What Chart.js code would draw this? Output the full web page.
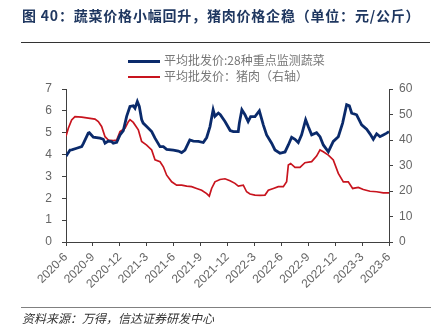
<!DOCTYPE html>
<html>
<head>
<meta charset="utf-8">
<script src="https://cdn.jsdelivr.net/npm/chart.js@4/dist/chart.umd.min.js"></script>
<style>
  html, body { margin: 0; padding: 0; background: #fff; }
  #wrap { position: relative; width: 443px; height: 334px; overflow: hidden; font-family: "Noto Sans CJK SC", "Noto Sans", sans-serif; }
  #c { position: absolute; left: 0; top: 0; }
  #title { position: absolute; left: 22px; top: 5px; font-size: 14px; font-weight: bold; color: #1f3760; white-space: pre; line-height: 20px; letter-spacing: 0.8px; }
  #topline { position: absolute; left: 21px; top: 42px; width: 409px; height: 1px; background: #333; }
  .lg { position: absolute; left: 128px; height: 14px; }
  .lg .sw { position: absolute; left: 0; width: 32px; }
  .lg .tx { position: absolute; left: 36px; top: -2px; font-size: 12px; color: #777; white-space: nowrap; line-height: 16px; }
  #botline { position: absolute; left: 21px; top: 307px; width: 410px; height: 1px; background: #808080; }
  #source { position: absolute; left: 22px; top: 310px; font-size: 12px; font-style: italic; color: #333; white-space: nowrap; line-height: 16px; }
</style>
</head>
<body>
<div id="wrap">
  <canvas id="c" width="443" height="334"></canvas>
  <div id="title">图 40：蔬菜价格小幅回升，猪肉价格企稳（单位：元/公斤）</div>
  <div id="topline"></div>
  <div id="legend"></div>
  <div id="botline"></div>
  <div id="source">资料来源：万得，信达证券研发中心</div>
</div>
<script>
// Month offsets from 2020-06 (x positions as time), and values
const vegT = [0.00,0.45,0.63,1.19,1.75,1.93,2.48,2.60,3.05,3.79,4.16,4.35,4.72,5.10,5.27,5.65,6.02,6.39,6.76,7.13,7.50,7.69,7.95,8.17,8.43,8.60,8.99,9.55,9.92,10.48,10.85,11.22,11.96,12.52,12.89,13.26,13.80,14.19,14.75,15.30,15.68,16.05,16.40,16.60,16.98,17.20,17.72,18.30,18.65,19.20,19.32,19.60,19.95,20.30,20.58,21.06,21.55,21.99,22.36,22.92,23.29,23.85,24.41,24.78,25.15,25.52,25.89,26.26,26.71,27.00,27.38,27.93,28.31,28.68,29.24,29.79,30.35,30.83,31.28,31.58,31.84,32.39,32.95,33.51,33.88,34.25,34.62,34.99,35.36,35.74,36.00];
const vegV = [3.92,4.21,4.22,4.29,4.36,4.50,4.98,5.00,4.80,4.75,4.70,4.52,4.62,4.59,4.52,4.56,4.90,5.10,5.75,6.20,6.23,6.12,6.43,6.20,5.60,5.44,5.28,5.05,4.75,4.36,4.36,4.24,4.20,4.16,4.09,4.20,4.67,4.62,4.60,4.55,4.78,5.28,6.05,5.75,5.90,5.82,5.51,5.10,5.05,5.05,5.44,6.05,5.82,5.51,5.74,5.74,6.00,5.36,4.90,4.52,4.21,4.06,4.12,4.44,4.79,4.70,4.55,4.90,5.59,5.28,4.90,5.00,4.82,4.44,4.13,4.60,4.82,5.44,6.28,6.23,5.90,5.82,5.36,5.16,4.95,4.70,4.95,4.82,4.90,4.98,5.05];
const porkT = [0.00,0.26,0.63,1.00,1.75,2.49,3.23,3.60,3.97,4.35,4.72,5.27,5.65,6.02,6.58,6.95,7.13,7.50,8.06,8.43,8.99,9.55,9.92,10.48,10.85,11.22,11.78,12.33,12.89,13.45,14.00,14.56,15.12,15.68,15.97,16.23,16.60,17.16,17.72,18.28,18.83,19.21,19.76,20.13,20.51,21.06,21.62,22.18,22.55,23.11,23.66,24.22,24.59,24.78,25.04,25.52,26.08,26.63,27.38,27.93,28.31,28.68,29.24,29.79,30.35,30.91,31.46,31.95,32.58,33.14,33.88,34.62,35.36,36.00];
const porkV = [41.5,44.6,47.9,49.2,49.0,48.6,48.2,47.2,45.3,41.3,40.0,39.8,40.0,43.3,44.6,47.2,48.0,46.9,44.0,39.4,38.0,36.1,32.2,31.5,29.5,26.2,23.6,22.3,22.3,21.9,21.7,21.0,20.3,19.0,18.0,21.0,23.6,24.5,24.8,24.0,23.0,21.9,22.3,19.7,18.8,18.4,18.3,18.4,20.3,21.0,21.7,21.7,23.6,30.2,30.8,29.3,29.3,31.1,31.5,33.7,36.1,35.4,34.1,32.2,26.9,23.6,23.6,21.0,21.4,20.6,19.9,19.7,19.3,19.3];
const tickLabels = ['2020-6','2020-9','2020-12','2021-3','2021-6','2021-9','2021-12','2022-3','2022-6','2022-9','2022-12','2023-3','2023-6'];
const seriesNames = ['平均批发价:28种重点监测蔬菜', '平均批发价：猪肉（右轴）'];
const seriesColors = ['#0a2a6b', '#c8141e'];

const legendEl = document.getElementById('legend');
seriesNames.forEach((name, i) => {
  const row = document.createElement('div');
  row.className = 'lg';
  row.style.top = (54 + i * 16) + 'px';
  const sw = document.createElement('div');
  sw.className = 'sw';
  sw.style.background = seriesColors[i];
  sw.style.height = (i === 0 ? 3 : 2) + 'px';
  sw.style.top = '6px';
  const tx = document.createElement('div');
  tx.className = 'tx';
  tx.textContent = name;
  row.appendChild(sw); row.appendChild(tx);
  legendEl.appendChild(row);
});

const axisColor = '#404040';
const tickFont = { family: '"Liberation Sans", Arial, sans-serif', size: 12 };
const tickColor = '#666';

new Chart(document.getElementById('c'), {
  type: 'line',
  data: {
    datasets: [
      { label: seriesNames[0], data: vegT.map((t, i) => ({ x: t, y: vegV[i] })), borderColor: seriesColors[0], borderWidth: 2.8, pointRadius: 0, tension: 0, yAxisID: 'y', fill: false },
      { label: seriesNames[1], data: porkT.map((t, i) => ({ x: t, y: porkV[i] })), borderColor: seriesColors[1], borderWidth: 1.7, pointRadius: 0, tension: 0, yAxisID: 'y2', fill: false }
    ]
  },
  options: {
    responsive: false,
    animation: false,
    devicePixelRatio: 1,
    layout: { padding: { top: 89, left: 0, right: 0, bottom: 0 } },
    plugins: { legend: { display: false }, title: { display: false }, tooltip: { enabled: false } },
    scales: {
      x: {
        type: 'linear', min: 0, max: 36,
        afterFit: s => { s.height = 92; },
        afterBuildTicks: s => { s.ticks = tickLabels.map((_, i) => ({ value: i * 3 })); },
        ticks: { stepSize: 3, autoSkip: false, minRotation: 45, maxRotation: 45, padding: 4, color: tickColor, font: tickFont,
                 callback: v => tickLabels[Math.round(v / 3)] },
        grid: { drawOnChartArea: false, drawTicks: true, tickLength: 4, color: axisColor },
        border: { color: axisColor, width: 1 }
      },
      y: {
        position: 'left', min: 0, max: 7,
        afterFit: s => { s.width = 66; },
        ticks: { stepSize: 1, padding: 10, color: tickColor, font: tickFont },
        grid: { drawOnChartArea: false, drawTicks: true, tickLength: 4, color: axisColor },
        border: { color: axisColor, width: 1 }
      },
      y2: {
        position: 'right', min: 0, max: 60,
        afterFit: s => { s.width = 54; },
        ticks: { stepSize: 10, padding: 6, color: tickColor, font: tickFont },
        grid: { drawOnChartArea: false, drawTicks: true, tickLength: 4, color: axisColor },
        border: { color: axisColor, width: 1 }
      }
    }
  }
});
</script>
</body>
</html>
